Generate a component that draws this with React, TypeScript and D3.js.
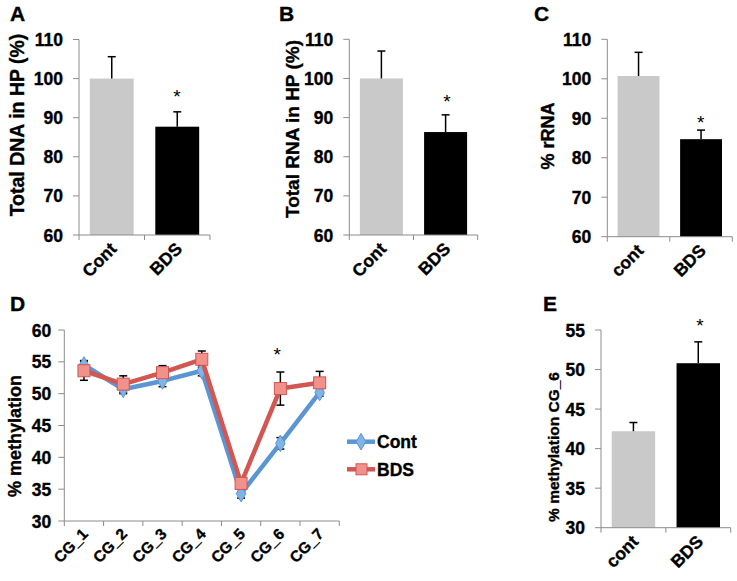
import React from 'react';
import * as d3 from 'd3';

// ---------- DATA ----------
const catsAB = ['Cont', 'BDS'];
const catsCE = ['cont', 'BDS'];

const dnaValues = [100, 87.7];
const dnaErrors = [5.6, 3.8];

const rnaValues = [100, 86.3];
const rnaErrors = [7.0, 4.4];

const rrnaValues = [100.7, 84.7];
const rrnaErrors = [6.0, 2.3];

const cg6Values = [42.2, 50.8];
const cg6Errors = [1.1, 2.7];

const ticksTop = [60, 70, 80, 90, 100, 110];
const ticksMeth = [30, 35, 40, 45, 50, 55, 60];
const ticksCG6 = [30, 35, 40, 45, 50, 55];

const cgSites = ['CG_1', 'CG_2', 'CG_3', 'CG_4', 'CG_5', 'CG_6', 'CG_7'];
const contMeth = [54.5, 50.7, 52.0, 53.6, 34.3, 42.2, 50.2];
const contMethErr = [0.7, 0.7, 0.9, 0.8, 0.7, 0.9, 0.6];
const bdsMeth = [53.6, 51.5, 53.3, 55.4, 35.9, 50.8, 51.7];
const bdsMethErr = [1.5, 1.3, 1.1, 1.3, 0.6, 2.6, 1.8];

const seriesNames = ['Cont', 'BDS'];

// ---------- STYLE ----------
const FONT = '"Liberation Sans", Arial, Helvetica, sans-serif';
const AXIS = '#8c8c8c';
const GREY = '#c9c9c9';
const BLUE = '#5b96d2';
const BLUE_FILL = '#80b3e8';
const RED = '#d25651';
const RED_FILL = '#f0918c';
const HEAVY = { stroke: '#000', strokeWidth: 0.35 };

type BarPanelProps = {
  id: string;
  letter: string;
  letterX: number;
  letterY: number;
  x0: number;
  x1: number;
  yTop: number;
  yBot: number;
  domain: [number, number];
  ticks: number[];
  cats: string[];
  values: number[];
  errors: number[];
  title: string;
  titleX: number;
  titleY: number;
  titleSize: number;
  starX: number;
  starY: number;
};

function Star({ x, y }: { x: number; y: number }) {
  return (
    <text x={x} y={y + 11} textAnchor="middle" fontFamily={FONT} fontSize={19} fill="#000">
      *
    </text>
  );
}

// diagonal (45°) category label whose end sits at (x, y)
function DiagLabel({ id, x, y, text, size }: { id: string; x: number; y: number; text: string; size: number }) {
  const L = 80;
  const d = L * Math.SQRT1_2;
  return (
    <g>
      <path id={id} d={`M${x - d},${y + d}L${x},${y}`} fill="none" stroke="none" />
      <text fontFamily={FONT} fontWeight="bold" fontSize={size} textAnchor="end" {...HEAVY}>
        <textPath href={`#${id}`} startOffset="100%">
          {text}
        </textPath>
      </text>
    </g>
  );
}

function BarPanel(p: BarPanelProps) {
  const y = d3.scaleLinear().domain(p.domain).range([p.yBot, p.yTop]);
  const x = d3.scaleBand<string>().domain(p.cats).range([p.x0, p.x1]).padding(0);
  const bw = x.bandwidth() * 0.67;
  const colors = [GREY, '#000'];
  const bounds = [p.x0, ...p.cats.map((c) => (x(c) as number) + x.bandwidth())];
  return (
    <g>
      <text x={p.letterX} y={p.letterY} fontFamily={FONT} fontWeight="bold" fontSize={21} {...HEAVY}>
        {p.letter}
      </text>
      {p.cats.map((c, i) => {
        const cx = (x(c) as number) + x.bandwidth() / 2;
        const top = y(p.values[i]);
        const et = y(p.values[i] + p.errors[i]);
        return (
          <g key={c}>
            <rect x={cx - bw / 2} y={top} width={bw} height={p.yBot - top} fill={colors[i]} />
            <line x1={cx} x2={cx} y1={top} y2={et} stroke="#000" strokeWidth={1.5} />
            <line x1={cx - 4} x2={cx + 4} y1={et} y2={et} stroke="#000" strokeWidth={1.5} />
          </g>
        );
      })}
      <line x1={p.x0} x2={p.x0} y1={p.yBot} y2={p.yTop} stroke={AXIS} strokeWidth={1} />
      {p.ticks.map((t) => (
        <g key={t}>
          <line x1={p.x0 - 6} x2={p.x0} y1={y(t)} y2={y(t)} stroke={AXIS} strokeWidth={1} />
          <text
            x={p.x0 - 16}
            y={y(t) + 6.5}
            textAnchor="end"
            fontFamily={FONT}
            fontWeight="bold"
            fontSize={17.5}
            {...HEAVY}
          >
            {t}
          </text>
        </g>
      ))}
      <line x1={p.x0} x2={p.x1} y1={p.yBot} y2={p.yBot} stroke={AXIS} strokeWidth={1} />
      {bounds.map((bx, i) => (
        <line key={i} x1={bx} x2={bx} y1={p.yBot} y2={p.yBot + 5} stroke={AXIS} strokeWidth={1} />
      ))}
      {p.cats.map((c, i) => {
        const cx = (x(c) as number) + x.bandwidth() / 2;
        return <DiagLabel key={c} id={`${p.id}-lab-${i}`} x={cx + 6} y={p.yBot + 15} text={c} size={17.5} />;
      })}
      <g transform={`translate(${p.titleX},${p.titleY})`}>
        <text
          transform="rotate(-90)"
          textAnchor="middle"
          fontFamily={FONT}
          fontWeight="bold"
          fontSize={p.titleSize}
          {...HEAVY}
        >
          {p.title}
        </text>
      </g>
      <Star x={p.starX} y={p.starY} />
    </g>
  );
}

function LinePanel() {
  const x0 = 64.3;
  const x1 = 339.3;
  const yTop = 330;
  const yBot = 521;
  const y = d3.scaleLinear().domain([30, 60]).range([yBot, yTop]);
  const x = d3.scaleBand<string>().domain(cgSites).range([x0, x1]).padding(0);
  const cx = (c: string) => (x(c) as number) + x.bandwidth() / 2;
  const line = d3
    .line<number>()
    .x((_, i) => cx(cgSites[i]))
    .y((d) => y(d));
  const diamond = d3.symbol().type(d3.symbolDiamond).size(80)() as string;
  const bounds = [x0, ...cgSites.map((c) => (x(c) as number) + x.bandwidth())];

  const errBars = (vals: number[], errs: number[], key: string) =>
    vals.map((v, i) => {
      const px = cx(cgSites[i]);
      const a = y(v + errs[i]);
      const b = y(v - errs[i]);
      return (
        <g key={key + i}>
          <line x1={px} x2={px} y1={a} y2={b} stroke="#000" strokeWidth={1.5} />
          <line x1={px - 4} x2={px + 4} y1={a} y2={a} stroke="#000" strokeWidth={1.5} />
          <line x1={px - 4} x2={px + 4} y1={b} y2={b} stroke="#000" strokeWidth={1.5} />
        </g>
      );
    });

  return (
    <g>
      <text x={10} y={311} fontFamily={FONT} fontWeight="bold" fontSize={21} {...HEAVY}>
        D
      </text>
      <line x1={x0} x2={x0} y1={yBot} y2={yTop} stroke={AXIS} strokeWidth={1} />
      {ticksMeth.map((t) => (
        <g key={t}>
          <line x1={x0 - 6} x2={x0} y1={y(t)} y2={y(t)} stroke={AXIS} />
          <text
            x={x0 - 13}
            y={y(t) + 6.5}
            textAnchor="end"
            fontFamily={FONT}
            fontWeight="bold"
            fontSize={17.5}
            {...HEAVY}
          >
            {t}
          </text>
        </g>
      ))}
      <line x1={x0} x2={x1} y1={yBot} y2={yBot} stroke={AXIS} />
      {bounds.map((bx, i) => (
        <line key={i} x1={bx} x2={bx} y1={yBot} y2={yBot + 5} stroke={AXIS} />
      ))}
      {cgSites.map((c, i) => (
        <DiagLabel key={c} id={`pd-lab-${i}`} x={cx(c) + 5} y={yBot + 14} text={c} size={15.5} />
      ))}
      <g transform={`translate(21,436)`}>
        <text transform="rotate(-90)" textAnchor="middle" fontFamily={FONT} fontWeight="bold" fontSize={18} {...HEAVY}>
          % methylation
        </text>
      </g>
      {errBars(contMeth, contMethErr, 'c')}
      {errBars(bdsMeth, bdsMethErr, 'b')}
      <path d={line(contMeth) as string} fill="none" stroke={BLUE} strokeWidth={4.5} strokeLinejoin="round" />
      {contMeth.map((v, i) => (
        <path
          key={'cm' + i}
          d={diamond}
          transform={`translate(${cx(cgSites[i])},${y(v)})`}
          fill={BLUE_FILL}
          stroke={BLUE}
          strokeWidth={1}
        />
      ))}
      <path d={line(bdsMeth) as string} fill="none" stroke={RED} strokeWidth={4.5} strokeLinejoin="round" />
      {bdsMeth.map((v, i) => (
        <rect
          key={'bm' + i}
          x={cx(cgSites[i]) - 6}
          y={y(v) - 6}
          width={12}
          height={12}
          fill={RED_FILL}
          stroke={RED}
          strokeWidth={1}
        />
      ))}
      <Star x={277.3} y={350} />
      {seriesNames.map((s, i) => {
        const ly = 441.7 + i * 27.6;
        return (
          <g key={s}>
            <line x1={347} x2={375} y1={ly} y2={ly} stroke={i === 0 ? BLUE : RED} strokeWidth={4.5} />
            {i === 0 ? (
              <path d={diamond} transform={`translate(361,${ly})`} fill={BLUE_FILL} stroke={BLUE} />
            ) : (
              <rect x={356} y={ly - 5.5} width={11} height={11} fill={RED_FILL} stroke={RED} />
            )}
            <text x={377} y={ly + 6.5} fontFamily={FONT} fontWeight="bold" fontSize={17.5} {...HEAVY}>
              {s}
            </text>
          </g>
        );
      })}
    </g>
  );
}

export default function App() {
  return (
    <svg
      width={737}
      height={581}
      viewBox="0 0 737 581"
      style={{ position: 'absolute', left: 0, top: 0, background: '#fff' }}
    >
      <rect width={737} height={581} fill="#fff" />
      <BarPanel
        id="pa"
        letter="A"
        letterX={10}
        letterY={21}
        x0={79}
        x1={210}
        yTop={39.5}
        yBot={235}
        domain={[60, 110]}
        ticks={ticksTop}
        cats={catsAB}
        values={dnaValues}
        errors={dnaErrors}
        title="Total DNA in HP (%)"
        titleX={24}
        titleY={125}
        titleSize={19.5}
        starX={177}
        starY={92}
      />
      <BarPanel
        id="pb"
        letter="B"
        letterX={279}
        letterY={21}
        x0={349.3}
        x1={477.7}
        yTop={39.3}
        yBot={235}
        domain={[60, 110]}
        ticks={ticksTop}
        cats={catsAB}
        values={rnaValues}
        errors={rnaErrors}
        title="Total RNA in HP (%)"
        titleX={299}
        titleY={129}
        titleSize={19}
        starX={447}
        starY={97}
      />
      <BarPanel
        id="pc"
        letter="C"
        letterX={534}
        letterY={21}
        x0={607.3}
        x1={732.3}
        yTop={39.3}
        yBot={236.7}
        domain={[60, 110]}
        ticks={ticksTop}
        cats={catsCE}
        values={rrnaValues}
        errors={rrnaErrors}
        title="% rRNA"
        titleX={554}
        titleY={136}
        titleSize={18}
        starX={700.7}
        starY={118.3}
      />
      <LinePanel />
      <BarPanel
        id="pe"
        letter="E"
        letterX={543}
        letterY={311}
        x0={601}
        x1={730.7}
        yTop={330}
        yBot={527.7}
        domain={[30, 55]}
        ticks={ticksCG6}
        cats={catsCE}
        values={cg6Values}
        errors={cg6Errors}
        title="% methylation CG_6"
        titleX={559}
        titleY={447}
        titleSize={15.5}
        starX={700}
        starY={320.7}
      />
    </svg>
  );
}
